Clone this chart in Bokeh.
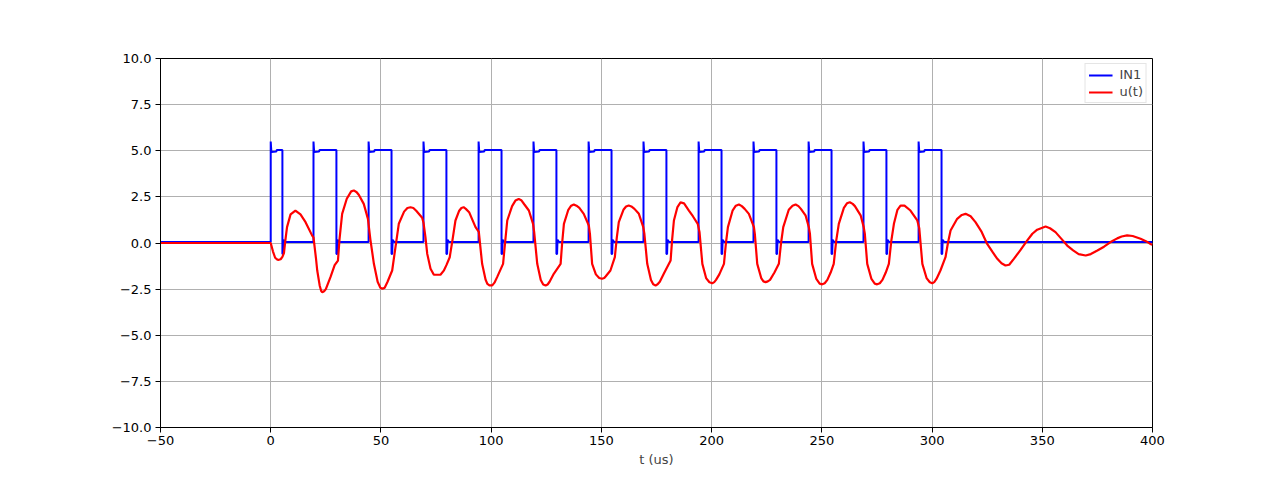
from bokeh.plotting import figure
from bokeh.models import Range1d, FixedTicker, CustomJSTickFormatter, Legend, LegendItem
from bokeh.embed import file_html
from bokeh.resources import INLINE

# ---- data ----
# IN1: pulse edge times (us) and levels
rise_times = [0.0, 19.4, 44.4, 69.3, 94.3, 119.2, 144.2, 169.1, 194.1, 219.0, 244.0, 268.9, 293.9]
fall_times = [5.3, 29.8, 54.8, 79.7, 104.7, 129.6, 154.6, 179.5, 204.5, 229.4, 254.4, 279.3, 304.3]
low_level = 0.05
high_start = 4.93
high_mid = 4.96
high_end = 5.04
spike_up = 5.5
spike_down = -0.6
after_fall = 0.18
t_start, t_end = -50.0, 400.0

# u(t): sampled points, one line per pulse period
u_t = ([-50, 0, 1, 2, 3, 3.7, 4.5, 5.3, 6, 6.6, 7.4, 9, 11.2, 13.5, 15.8, 18.8]
     + [19.4, 20.5, 21.1, 22.2, 22.9, 23.4, 24.2, 25, 27.1, 29, 30.5, 31.2, 32.4, 34.5, 36.5, 37.7, 39, 40, 42.2, 44.1]
     + [45.2, 46.8, 48.5, 49.7, 50.7, 51.7, 53, 55.1, 56.5, 58.1, 60.5, 62, 63.4, 64.7, 66, 68.7, 69.3]
     + [70.2, 71, 72.5, 74, 77, 78.5, 79.7, 81.2, 82.5, 83.8, 85.5, 86.5, 87.5, 88.5, 90, 92.9]
     + [94.4, 95.9, 97.5, 98.3, 99.2, 100.5, 101.5, 102.7, 105.4, 106.3, 107.3, 109.5, 111, 112.5, 113.8, 115, 117.1, 119]
     + [119.5, 120.9, 122.5, 123.6, 124.7, 125.6, 126.5, 128.4, 131.5, 132.2, 133, 135, 136.3, 137.5, 138.7, 140, 142, 144.3]
     + [144.8, 145.8, 147.5, 149, 150.3, 151.3, 152, 154.1, 156.1, 157, 157.9, 160, 161.2, 162.4, 163.6, 165, 167, 169]
     + [169.5, 170.8, 172.5, 173.5, 174.6, 175.5, 176.5, 178.3, 181.4, 182.1, 182.9, 184.5, 185.9, 187.5, 189.7, 191.5, 193.7]
     + [194.5, 195.8, 197.5, 199, 200.3, 201.2, 202, 203.5, 205.6, 206.5, 207.4, 209.5, 211, 212.4, 213.7, 215, 216.9, 219.2]
     + [219.6, 220.7, 222.5, 223.5, 224.5, 225.5, 226.5, 228.5, 230.5, 231.5, 232.5, 235, 236.7, 238.1, 239.4, 240.5, 242.6, 244.1]
     + [244.6, 245.6, 247.5, 249, 250.2, 251.3, 252.5, 254, 255.4, 256.5, 257.7, 260, 261.4, 262.7, 264, 265, 267.6, 269]
     + [269.5, 270.6, 272.5, 274, 275.1, 276.3, 277.5, 279, 280.4, 281.5, 282.7, 284.3, 285.7, 287.5, 290.2, 293.3]
     + [294.2, 295.6, 297.5, 299, 300.1, 301, 302, 303.8, 306.1, 307.2, 308.4, 311.4, 313.5, 315.2, 317.5, 319.7]
     + [322.5, 325, 327.5, 329.6, 331.5, 333.3, 335, 337.1, 340, 343.2, 345.5, 347.7, 351.5, 353.5, 356]
     + [358.5, 361.3, 364, 366.5, 369.7, 372, 375, 378, 381, 384, 386, 388.5, 391, 394.6, 397, 399, 400])
u_v = ([0.0, 0.0, -0.45, -0.8, -0.9, -0.91, -0.88, -0.75, -0.55, 0.1, 0.86, 1.55, 1.76, 1.55, 1.13, 0.4]
     + [0.3, -0.8, -1.49, -2.3, -2.6, -2.67, -2.62, -2.5, -1.85, -1.2, -0.95, 0.2, 1.58, 2.4, 2.8, 2.85, 2.75, 2.6, 2.12, 1.31]
     + [0.2, -1.13, -2.1, -2.42, -2.48, -2.42, -2.1, -1.49, -0.3, 1.04, 1.7, 1.9, 1.94, 1.9, 1.75, 1.37, 1.1]
     + [0.3, -0.59, -1.4, -1.72, -1.72, -1.5, -1.2, -0.77, 0.2, 1.22, 1.75, 1.9, 1.94, 1.85, 1.67, 0.86]
     + [0.6, -1.13, -2.0, -2.22, -2.3, -2.3, -2.15, -1.85, -1.13, 0.0, 1.22, 2.0, 2.3, 2.39, 2.3, 2.1, 1.76, 1.04]
     + [0.6, -1.13, -2.0, -2.25, -2.3, -2.25, -2.1, -1.67, -1.13, 0.0, 1.04, 1.8, 2.02, 2.09, 2.02, 1.9, 1.58, 0.95]
     + [0.5, -1.13, -1.7, -1.9, -1.94, -1.9, -1.8, -1.49, -0.77, 0.3, 1.13, 1.8, 1.98, 2.03, 1.98, 1.85, 1.58, 0.86]
     + [0.5, -1.13, -2.0, -2.24, -2.3, -2.24, -2.1, -1.67, -0.95, 0.2, 1.22, 1.95, 2.2, 2.15, 1.76, 1.45, 1.04]
     + [0.6, -1.13, -1.9, -2.13, -2.18, -2.12, -2.0, -1.7, -1.13, 0.0, 0.86, 1.75, 2.02, 2.09, 2.0, 1.85, 1.58, 0.86]
     + [0.5, -1.13, -1.9, -2.08, -2.12, -2.08, -2.0, -1.6, -1.13, 0.0, 0.86, 1.8, 2.02, 2.09, 2.0, 1.85, 1.5, 0.86]
     + [0.5, -1.13, -1.95, -2.2, -2.24, -2.18, -2.0, -1.6, -1.13, 0.1, 1.04, 1.9, 2.15, 2.21, 2.12, 2.0, 1.5, 0.86]
     + [0.5, -1.13, -1.95, -2.2, -2.24, -2.18, -2.0, -1.6, -1.13, 0.1, 1.04, 1.8, 2.03, 2.03, 1.76, 1.22]
     + [0.8, -1.13, -1.9, -2.13, -2.18, -2.12, -1.95, -1.49, -0.77, 0.0, 0.68, 1.31, 1.52, 1.58, 1.45, 1.13]
     + [0.6, -0.05, -0.5, -0.86, -1.1, -1.22, -1.18, -0.86, -0.4, 0.14, 0.5, 0.72, 0.89, 0.8, 0.59]
     + [0.25, -0.14, -0.4, -0.6, -0.68, -0.6, -0.41, -0.2, 0.05, 0.25, 0.35, 0.41, 0.38, 0.23, 0.1, -0.05, -0.1])

x_ticks = [-50, 0, 50, 100, 150, 200, 250, 300, 350, 400]
y_ticks = [-10.0, -7.5, -5.0, -2.5, 0.0, 2.5, 5.0, 7.5, 10.0]

n = min(len(u_t), len(u_v))
u_t, u_v = u_t[:n], u_v[:n]

# ---- build IN1 step polyline from edge times ----
in_t = [t_start]
in_v = [low_level]
for r, f in zip(rise_times, fall_times):
    in_t += [r, r, r + 0.3, r + 2.5, r + 2.8, f, f, f + 0.3, f + 0.5, f + 1.2]
    in_v += [low_level, spike_up, high_start, high_mid, high_end, high_end,
             spike_down, spike_down, after_fall, low_level]
in_t.append(t_end)
in_v.append(low_level)

FONT = "DejaVu Sans"

p = figure(width=1280, height=480, output_backend="svg", toolbar_location=None,
           x_range=Range1d(-50, 400), y_range=Range1d(-10, 10),
           min_border_left=160, min_border_right=128, min_border_top=58, min_border_bottom=53)
p.background_fill_color = "white"
p.border_fill_color = "white"
p.outline_line_color = "black"
p.outline_line_width = 1

r1 = p.line(in_t, in_v, line_color="#0000ff", line_width=2)
r2 = p.line(u_t, u_v, line_color="#ff0000", line_width=2.2)

p.xaxis.ticker = FixedTicker(ticks=x_ticks)
p.yaxis.ticker = FixedTicker(ticks=y_ticks)
p.xaxis.formatter = CustomJSTickFormatter(code="return (tick<0?'\u2212':'') + Math.abs(tick).toFixed(0);")
p.yaxis.formatter = CustomJSTickFormatter(code="return (tick<0?'\u2212':'') + Math.abs(tick).toFixed(1);")
for ax in (p.xaxis, p.yaxis):
    ax.major_tick_out = 5
    ax.major_tick_in = 0
    ax.minor_tick_out = 0
    ax.minor_tick_in = 0
    ax.major_label_text_font = FONT
    ax.major_label_text_font_size = "13px"
    ax.major_label_text_color = "black"
    ax.axis_line_color = "black"
    ax.major_tick_line_color = "black"
    ax.axis_label_text_font = FONT
    ax.axis_label_text_font_size = "13px"
    ax.axis_label_text_font_style = "normal"
p.xaxis.axis_label = "t (us)"
p.xaxis.major_label_standoff = 3
p.xaxis.axis_label_standoff = 4
p.yaxis.major_label_standoff = 4

p.xgrid.grid_line_color = "#b0b0b0"
p.ygrid.grid_line_color = "#b0b0b0"
p.xgrid.grid_line_width = 1
p.ygrid.grid_line_width = 1

legend = Legend(items=[LegendItem(label="IN1", renderers=[r1]),
                       LegendItem(label="u(t)", renderers=[r2])],
                location="top_right")
legend.label_text_font = FONT
legend.label_text_font_size = "13px"
legend.glyph_width = 24
legend.glyph_height = 14
legend.label_height = 14
legend.spacing = 2
legend.padding = 3
legend.margin = 5
legend.label_standoff = 7
legend.border_line_color = "#cccccc"
legend.border_line_width = 1
legend.background_fill_alpha = 0.8
p.add_layout(legend)

open("out.html", "w").write(file_html(p, INLINE))
